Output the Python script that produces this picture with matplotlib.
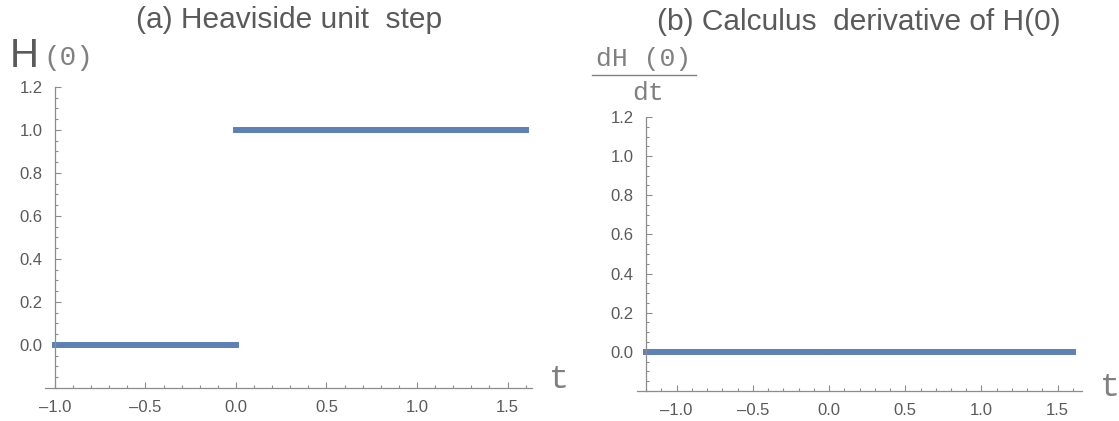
import matplotlib.pyplot as plt
from matplotlib.lines import Line2D
from matplotlib.ticker import MultipleLocator, FixedLocator, FuncFormatter

# data: Heaviside step and its derivative
t_neg = [-1.0, 0.0]
h_neg = [0.0, 0.0]
t_pos = [0.0, 1.6]
h_pos = [1.0, 1.0]

t_d_left = [-1.2, 0.0]
t_d_right = [0.0, 1.6]
dh = [0.0, 0.0]

y_ticks = [0.0, 0.2, 0.4, 0.6, 0.8, 1.0, 1.2]

blue = "#5E81B5"
axis_grey = "#8c8c8c"
text_grey = "#5a5a5a"
label_grey = "#808080"


def fmt(v, pos):
    s = "%.1f" % abs(v)
    return ("\u2013" + s) if v < -1e-9 else s


fig = plt.figure(figsize=(11.19, 4.21), dpi=100)
ax1 = fig.add_axes([0.0402, 0.0784, 0.4352, 0.715])
ax2 = fig.add_axes([0.5693, 0.0713, 0.3977, 0.6508])


def style(ax, yaxis_x, xlim):
    ax.set_xlim(*xlim)
    ax.set_ylim(-0.2, 1.2)
    for s in ["top", "right"]:
        ax.spines[s].set_visible(False)
    ax.spines["left"].set_position(("data", yaxis_x))
    for s in ["left", "bottom"]:
        ax.spines[s].set_color(axis_grey)
        ax.spines[s].set_linewidth(0.9)
    ax.xaxis.set_major_locator(MultipleLocator(0.5))
    ax.xaxis.set_minor_locator(MultipleLocator(0.1))
    ax.yaxis.set_major_locator(FixedLocator(y_ticks))
    ax.yaxis.set_minor_locator(MultipleLocator(0.05))
    ax.xaxis.set_major_formatter(FuncFormatter(fmt))
    ax.yaxis.set_major_formatter(FuncFormatter(fmt))
    ax.tick_params(which="both", direction="in", color=axis_grey, width=0.8,
                   labelcolor=text_grey, labelsize=12)
    ax.tick_params(which="major", length=4)
    ax.tick_params(which="minor", length=2.2)
    ax.tick_params(axis="x", pad=9)
    ax.tick_params(axis="y", pad=9)
    for lab in ax.get_xticklabels() + ax.get_yticklabels():
        lab.set_family("Liberation Sans")
    ax.patch.set_alpha(0)


style(ax1, -1.0, (-1.055, 1.635))
style(ax2, -1.2, (-1.26, 1.66))

lw = 4.3
ax1.plot(t_neg, h_neg, color=blue, lw=lw, solid_capstyle="projecting")
ax1.plot(t_pos, h_pos, color=blue, lw=lw, solid_capstyle="projecting")
ax2.plot(t_d_left, dh, color=blue, lw=lw, solid_capstyle="projecting")
ax2.plot(t_d_right, dh, color=blue, lw=lw, solid_capstyle="projecting")

# titles
fig.text(289 / 1119, 1 - 20 / 421, "(a) Heaviside unit  step", ha="center", va="center",
         fontsize=21.5, color=text_grey, family="Liberation Sans")
fig.text(859 / 1119, 1 - 22 / 421, "(b) Calculus  derivative of H(0)", ha="center", va="center",
         fontsize=21.5, color=text_grey, family="Liberation Sans")

# axis labels
fig.text(10 / 1119, 1 - 56 / 421, "H", ha="left", va="center", fontsize=29,
         color=text_grey, family="Liberation Sans")
fig.text(43 / 1119, 1 - 58 / 421, "(0)", ha="left", va="center", fontsize=20,
         color=label_grey, family="Liberation Mono")
fig.text(549 / 1119, 1 - 380 / 421, "t", ha="left", va="center", fontsize=24,
         color=label_grey, family="Liberation Mono")
fig.text(1100 / 1119, 1 - 387 / 421, "t", ha="left", va="center", fontsize=24,
         color=label_grey, family="Liberation Mono")

# fraction dH(0)/dt
fig.text(644 / 1119, 1 - 59 / 421, "dH (0)", ha="center", va="center", fontsize=19,
         color=label_grey, family="Liberation Mono")
fig.add_artist(Line2D([592 / 1119, 696 / 1119], [1 - 75 / 421, 1 - 75 / 421],
                      color=label_grey, lw=1.0, transform=fig.transFigure))
fig.text(648 / 1119, 1 - 93 / 421, "dt", ha="center", va="center", fontsize=19,
         color=label_grey, family="Liberation Mono")

fig.savefig("out.png", dpi=100)
